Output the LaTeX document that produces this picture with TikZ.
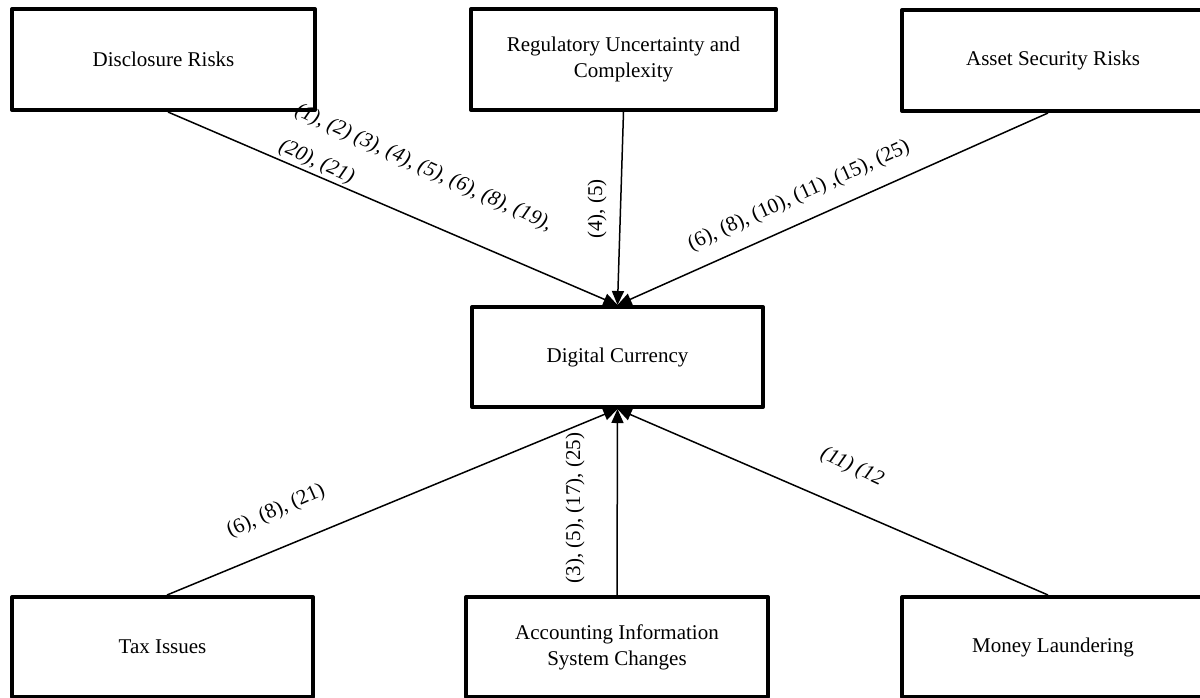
\documentclass[tikz,border=0pt]{standalone}
\usepackage{fontspec}
\setmainfont{Liberation Serif}
\usetikzlibrary{arrows.meta}
\begin{document}
\begin{tikzpicture}[x=1pt,y=-1pt,
  box/.style={draw, line width=4pt, line join=round, minimum width=302pt, minimum height=101pt, inner sep=0pt, align=center, font=\fontsize{21}{26}\selectfont},
  lbl/.style={inner sep=0pt, font=\fontsize{21}{26}\selectfont},
  lblit/.style={inner sep=0pt, font=\fontsize{21}{39}\selectfont\itshape},
  arr/.style={line width=1.5pt, -{Triangle[length=14pt,width=12pt]}}]
\useasboundingbox (0,0) rectangle (1200,697);
% boxes
\node[box, minimum width=303pt] (D) at (163.5,59.5) {Disclosure Risks};
\node[box, minimum width=305pt] (R) at (623.5,59.5) {Regulatory Uncertainty and\\Complexity};
\node[box] (A) at (1053,60.5) {Asset Security Risks};
\node[box, minimum width=291pt, minimum height=100pt] (DC) at (617.5,357) {Digital Currency};
\node[box, minimum width=301pt, minimum height=100pt] (T) at (162.5,647) {Tax Issues};
\node[box, minimum height=100pt] (AC) at (617,647) {Accounting Information\\System Changes};
\node[box, minimum height=100pt] (M) at (1053,647) {Money Laundering};
% connectors
\draw[arr] ([xshift=4.5pt]D.south) -- (DC.north);
\draw[arr] (R.south) -- (DC.north);
\draw[arr] ([xshift=-5pt]A.south) -- (DC.north);
\draw[arr] ([xshift=4.5pt]T.north) -- (DC.south);
\draw[arr] (AC.north) -- (DC.south);
\draw[arr] ([xshift=-5pt]M.north) -- (DC.south);
% labels
\node[lblit, rotate=-24.5, anchor=north west, align=left] (LD) at (300,101) {(1), (2) (3), (4), (5), (6), (8), (19),\\(20), (21)};
\node[lbl, rotate=90] (LR) at (597,209) {(4), (5)};
\node[lbl, rotate=24.3] (LA) at (799,196) {(6), (8), (10), (11) ,(15), (25)};
\node[lbl, rotate=24] (LT) at (276,511) {(6), (8), (21)};
\node[lbl, rotate=90] (LAC) at (575,508) {(3), (5), (17), (25)};
\node[lblit, rotate=-25] (LM) at (852,467) {(11) (12};
\end{tikzpicture}
\end{document}
